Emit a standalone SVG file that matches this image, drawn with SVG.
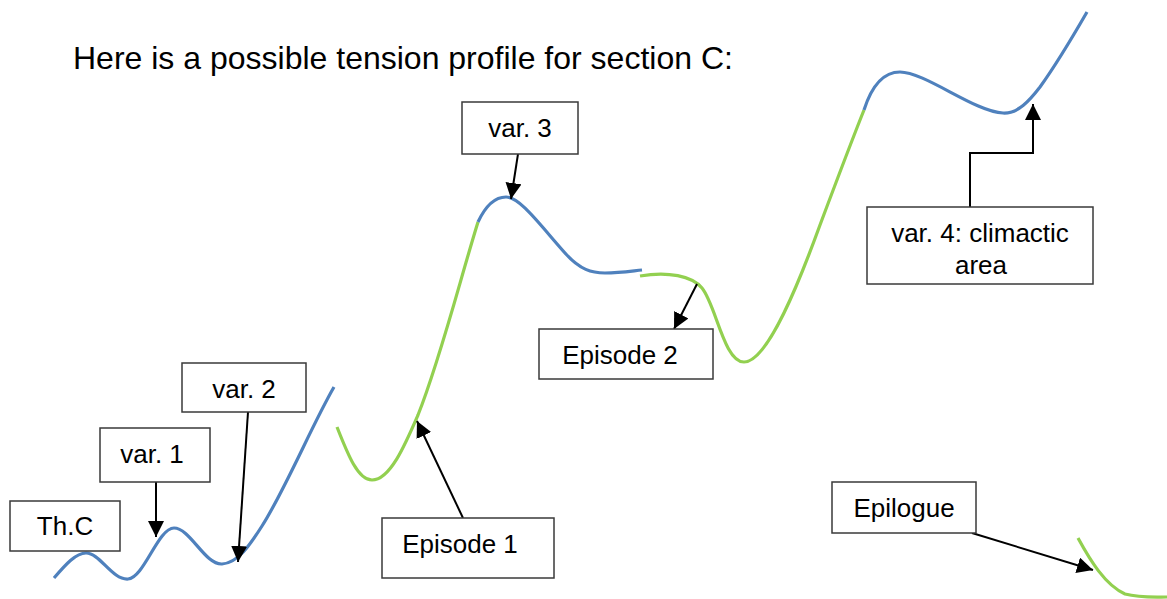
<svg xmlns="http://www.w3.org/2000/svg" width="1167" height="599" viewBox="0 0 1167 599">
  <style>
    .box { fill: #ffffff; stroke: #3a3a3a; stroke-width: 1.5; }
    .lbl { font-family: "Liberation Sans", Arial, sans-serif; font-size: 26px; fill: #000; text-anchor: middle; }
    .title { font-family: "Liberation Sans", Arial, sans-serif; font-size: 32px; fill: #000; }
    .blue { fill: none; stroke: #4F81BD; stroke-width: 3.2; stroke-linecap: butt; }
    .green { fill: none; stroke: #92D050; stroke-width: 3.2; stroke-linecap: butt; }
    .arr { fill: none; stroke: #000; stroke-width: 2; marker-end: url(#ah); }
  </style>
  <defs>
    <marker id="ah" markerUnits="userSpaceOnUse" markerWidth="18" markerHeight="18" refX="16" refY="8" orient="auto">
      <path d="M0,0 L16,8 L0,16 z" fill="#000"/>
    </marker>
  </defs>
  <rect width="1167" height="599" fill="#ffffff"/>

  <text class="title" x="73" y="69">Here is a possible tension profile for section C:</text>

  <g id="curves">
    <path class="blue" d="M54,578 C66,564 76,553 86,553 C100,553 112,580 128,579 C144,578 158,528 174,528 C190,528 205,565 222,564 C238,563 250,545 262,526 C285,490 312,425 334,387"/>
    <path class="green" d="M337,427 C348,455 358,480 372,480 C390,480 405,445 418,415 C440,360 460,280 478,222"/>
    <path class="blue" d="M478,222 C486,205 496,197 506,197 C520,197 540,225 565,253 C580,270 592,273 605,273 C620,273 632,271 642,270"/>
    <path class="green" d="M640,276 C668,271 692,276 702,288 C716,305 724,362 744,362 C768,362 800,280 820,225 C835,185 852,140 864,110"/>
    <path class="blue" d="M864,110 C872,85 884,72 900,72 C925,72 975,112 1003,113 C1018,114 1030,100 1040,87 C1058,62 1072,38 1087,12"/>
    <path class="green" d="M1078,538 C1090,560 1105,585 1125,594 C1140,598 1155,597 1167,597"/>
  </g>

  <g id="connectors">
    <line class="arr" x1="156" y1="482" x2="156" y2="537"/>
    <line class="arr" x1="248" y1="412" x2="238" y2="562"/>
    <line class="arr" x1="518" y1="154" x2="511" y2="199"/>
    <line class="arr" x1="463" y1="518" x2="417" y2="421"/>
    <line class="arr" x1="697" y1="284" x2="674" y2="329"/>
    <polyline class="arr" points="970,207 970,153 1033,153 1033,104"/>
    <line class="arr" x1="972" y1="533" x2="1093" y2="570"/>
  </g>

  <g id="node-thc">
    <rect class="box" x="10" y="501" width="110" height="50"/>
    <text class="lbl" x="65" y="535">Th.C</text>
  </g>
  <g id="node-var1">
    <rect class="box" x="100" y="428" width="110" height="54"/>
    <text class="lbl" x="152" y="463">var. 1</text>
  </g>
  <g id="node-var2">
    <rect class="box" x="182" y="363" width="124" height="49"/>
    <text class="lbl" x="244" y="398">var. 2</text>
  </g>
  <g id="node-var3">
    <rect class="box" x="462" y="102" width="116" height="52"/>
    <text class="lbl" x="520" y="137">var. 3</text>
  </g>
  <g id="node-episode1">
    <rect class="box" x="382" y="518" width="172" height="60"/>
    <text class="lbl" x="460" y="553">Episode 1</text>
  </g>
  <g id="node-episode2">
    <rect class="box" x="539" y="329" width="174" height="50"/>
    <text class="lbl" x="620" y="364">Episode 2</text>
  </g>
  <g id="node-var4">
    <rect class="box" x="867" y="207" width="226" height="77"/>
    <text class="lbl" x="980" y="242">var. 4: climactic</text>
    <text class="lbl" x="981" y="274">area</text>
  </g>
  <g id="node-epilogue">
    <rect class="box" x="832" y="482" width="144" height="51"/>
    <text class="lbl" x="904" y="517">Epilogue</text>
  </g>
</svg>
